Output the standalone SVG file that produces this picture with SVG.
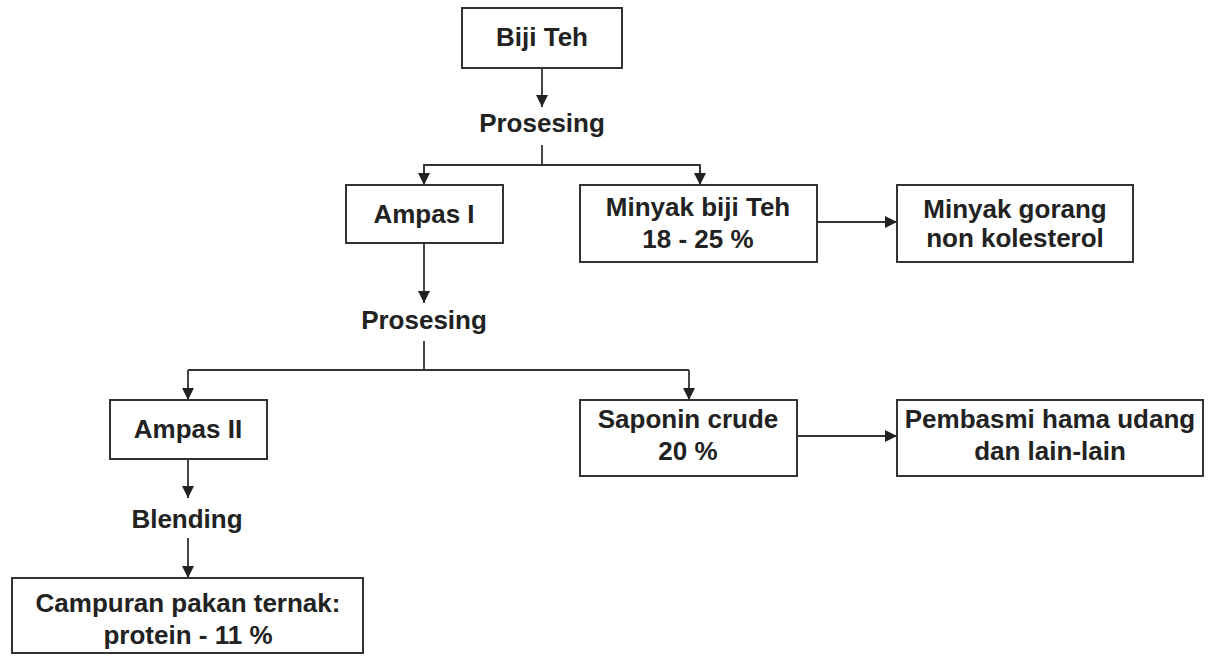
<svg xmlns="http://www.w3.org/2000/svg" width="1211" height="657" viewBox="0 0 1211 657">
<style>
.box{fill:#fff;stroke:#333;stroke-width:2}
.t{font-family:"Liberation Sans",Arial,sans-serif;font-weight:bold;font-size:26px;fill:#222;text-anchor:middle}
.c{fill:none;stroke:#333;stroke-width:1.8}
</style>
<defs>
<marker id="ah" markerUnits="userSpaceOnUse" markerWidth="12" markerHeight="12" viewBox="0 0 12 12" refX="12" refY="6" orient="auto">
<path d="M0,0 L12,6 L0,12 Z" fill="#222"/>
</marker>
</defs>
<rect width="1211" height="657" fill="#fff"/>
<g id="connectors">
<line class="c" x1="542" y1="68" x2="542" y2="107" marker-end="url(#ah)"/>
<polyline class="c" points="542,145 542,165"/>
<polyline class="c" points="424,185 424,165 700,165 700,185"/>
<line class="c" x1="424" y1="166" x2="424" y2="185" marker-end="url(#ah)"/>
<line class="c" x1="700" y1="166" x2="700" y2="185" marker-end="url(#ah)"/>
<line class="c" x1="817" y1="222" x2="897" y2="222" marker-end="url(#ah)"/>
<line class="c" x1="424" y1="243" x2="424" y2="303" marker-end="url(#ah)"/>
<polyline class="c" points="424,341 424,370"/>
<polyline class="c" points="188,370 689,370"/>
<line class="c" x1="188" y1="370" x2="188" y2="400" marker-end="url(#ah)"/>
<line class="c" x1="689" y1="370" x2="689" y2="400" marker-end="url(#ah)"/>
<line class="c" x1="797" y1="436" x2="897" y2="436" marker-end="url(#ah)"/>
<line class="c" x1="188" y1="459" x2="188" y2="498" marker-end="url(#ah)"/>
<line class="c" x1="188" y1="538" x2="188" y2="578" marker-end="url(#ah)"/>
</g>
<g id="biji-teh"><rect class="box" x="462" y="8" width="160" height="60"/><text class="t" x="542" y="46">Biji Teh</text></g>
<g id="prosesing-1"><text class="t" x="542" y="132">Prosesing</text></g>
<g id="ampas-1"><rect class="box" x="346" y="185" width="157" height="58"/><text class="t" x="424" y="223">Ampas I</text></g>
<g id="minyak-biji-teh"><rect class="box" x="580" y="185" width="237" height="77"/><text class="t" x="698" y="216">Minyak biji Teh</text><text class="t" x="698" y="248">18 - 25 %</text></g>
<g id="minyak-goreng"><rect class="box" x="897" y="185" width="236" height="77"/><text class="t" x="1015" y="218">Minyak gorang</text><text class="t" x="1015" y="247">non kolesterol</text></g>
<g id="prosesing-2"><text class="t" x="424" y="329">Prosesing</text></g>
<g id="ampas-2"><rect class="box" x="110" y="400" width="157" height="59"/><text class="t" x="188" y="438">Ampas II</text></g>
<g id="saponin"><rect class="box" x="580" y="400" width="217" height="76"/><text class="t" x="688" y="428">Saponin crude</text><text class="t" x="688" y="460">20 %</text></g>
<g id="pembasmi"><rect class="box" x="897" y="400" width="306" height="76"/><text class="t" x="1050" y="428">Pembasmi hama udang</text><text class="t" x="1050" y="460">dan lain-lain</text></g>
<g id="blending"><text class="t" x="187" y="528">Blending</text></g>
<g id="campuran"><rect class="box" x="12" y="578" width="351" height="75"/><text class="t" x="188" y="612">Campuran pakan ternak:</text><text class="t" x="188" y="644">protein - 11 %</text></g>
</svg>
